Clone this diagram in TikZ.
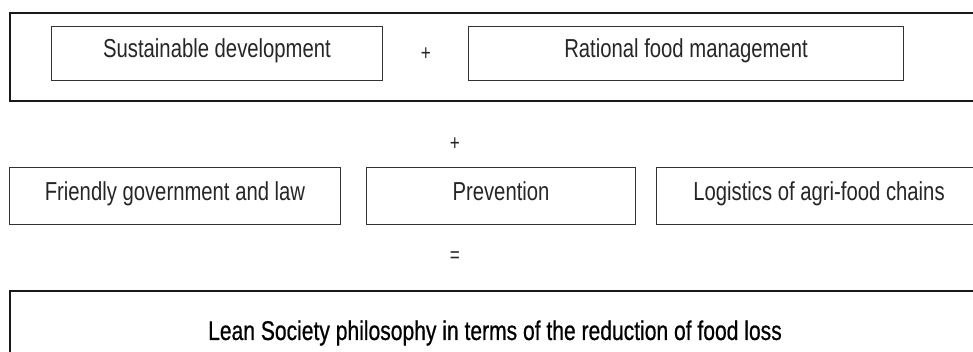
\documentclass[tikz,border=0pt]{standalone}
\usepackage{fontspec}
\setmainfont{Liberation Sans}[FakeStretch=0.78]
\newfontfamily\strongfont{Liberation Sans}[FakeStretch=0.78,FakeBold=0.6]
\begin{document}
\begin{tikzpicture}[x=1pt,y=-1pt,
  frame/.style={draw=black!90,line width=1.8pt},
  item/.style={draw=black!80,line width=1pt,inner sep=0pt},
  label/.style={font=\fontsize{26}{28}\selectfont,text=black!85,
    text height=1.05em,text depth=0.19em},
  sign/.style={font=\fontsize{22}{24}\selectfont,text=black!85}]
\clip (0,0) rectangle (973,352);
\fill[white] (0,0) rectangle (973,352);

% outer frame of the first row
\node[frame,minimum width=972pt,minimum height=88pt,anchor=north west] (top) at (9,12) {};

% first row
\node[item,minimum width=331pt,minimum height=54pt,anchor=north west,label] (sd) at (51,26) {Sustainable development};
\node[sign] (p1) at (426,54) {+};
\node[item,minimum width=435pt,minimum height=54pt,anchor=north west,label] (rfm) at (468,26) {Rational food management};

\node[sign] (p2) at (455,144) {+};

% second row
\node[item,minimum width=331pt,minimum height=57pt,anchor=north west,label] (gov) at (9,167) {Friendly government and law};
\node[item,minimum width=269pt,minimum height=57pt,anchor=north west,label] (prev) at (366,167) {Prevention};
\node[item,minimum width=325pt,minimum height=57pt,anchor=north west,label] (log) at (656,167) {Logistics of agri-food chains};

\node[sign] (eq) at (455,257) {=};

% result
\node[draw=black!90,line width=1.5pt,minimum width=972pt,minimum height=84pt,anchor=north west] (res) at (9,290) {};
\node[font=\strongfont\fontsize{27}{29}\selectfont,text=black] (lean) at (495,333) {Lean Society philosophy in terms of the reduction of food loss};
\end{tikzpicture}
\end{document}
